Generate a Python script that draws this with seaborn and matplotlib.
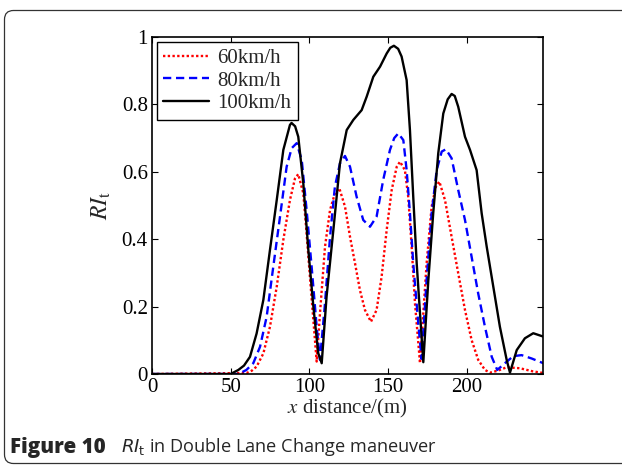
import matplotlib
matplotlib.use("Agg")
import matplotlib.pyplot as plt
import matplotlib.transforms as mtransforms
from matplotlib.patches import FancyBboxPatch
import seaborn as sns
import pandas as pd

# ---- data ----
series_labels = ["60km/h", "80km/h", "100km/h"]

black_x = [0, 50, 54.9, 58.5, 62.3, 66.5, 70.8, 75, 79.3, 83.5,
           87.7, 88.7, 91, 93, 96.2, 99.4, 102.6, 105.7, 107.9, 111,
           115.3, 119.5, 123.8, 128, 133.3, 136.5, 140.7, 145, 149.2, 151.5,
           153.8, 156.5, 158.7, 161.9, 164, 166.1, 168.3, 170.4, 172.5, 175.7,
           178.8, 182, 185.2, 188, 190.5, 192.5, 194.7, 199, 202.2, 206.4,
           209.6, 212.8, 217, 221.2, 225.5, 227.6, 231.9, 237.1, 242.4, 248.8]
black_y = [0, 0, 0.012, 0.025, 0.051, 0.12, 0.22, 0.368, 0.516, 0.665,
           0.739, 0.745, 0.735, 0.704, 0.566, 0.368, 0.2, 0.062, 0.032, 0.23,
           0.427, 0.625, 0.724, 0.754, 0.783, 0.823, 0.882, 0.912, 0.951, 0.968,
           0.974, 0.965, 0.942, 0.872, 0.724, 0.526, 0.328, 0.18, 0.035, 0.279,
           0.477, 0.655, 0.773, 0.815, 0.831, 0.825, 0.793, 0.704, 0.665, 0.605,
           0.477, 0.378, 0.259, 0.14, 0.042, 0.004, 0.071, 0.106, 0.121, 0.111]

blue_x = [0, 55, 60, 64.4, 68.7, 72.9, 77.1, 81.4, 85.6, 88.8,
          92, 95.2, 98.3, 101.5, 104.7, 106.8, 110, 113.2, 116.3, 119.5,
          122.7, 125.9, 130.1, 134.3, 138.6, 142.8, 147, 151.3, 154, 156.6,
          159.8, 161.9, 164, 166.1, 169.3, 171.4, 174.6, 177.8, 181, 184.2,
          186.9, 190.5, 194.7, 199, 203.2, 207.4, 211.7, 216, 219.5, 224.4,
          229.7, 235, 241.4, 248.8]
blue_y = [0, 0, 0.012, 0.032, 0.081, 0.17, 0.318, 0.467, 0.615, 0.67,
          0.685, 0.635, 0.487, 0.318, 0.14, 0.042, 0.21, 0.407, 0.556, 0.625,
          0.647, 0.615, 0.526, 0.457, 0.437, 0.467, 0.576, 0.665, 0.7, 0.714,
          0.694, 0.605, 0.477, 0.328, 0.15, 0.045, 0.279, 0.477, 0.605, 0.66,
          0.667, 0.64, 0.546, 0.457, 0.348, 0.239, 0.14, 0.051, 0.012, 0.032,
          0.053, 0.056, 0.046, 0.032]

red_x = [0, 60.2, 63.5, 66.5, 70.8, 75, 79.3, 83.5, 87.7, 90.9,
         93, 96.2, 98.3, 100.4, 102.6, 104.7, 106.8, 110, 113.2, 116.3,
         119.1, 122.7, 125.9, 129.1, 132.2, 135.4, 139.2, 142.8, 146, 149.2,
         152.4, 155.6, 157.7, 160.8, 162.9, 165.1, 167.2, 170.4, 172.5, 174.6,
         177.8, 180.5, 182.7, 186.3, 190.5, 194.7, 199, 203.2, 207.4, 211.7,
         214.9, 220, 225.5, 234, 242, 248.8]
red_y = [0, 0.003, 0.01, 0.022, 0.061, 0.14, 0.259, 0.398, 0.516, 0.58,
         0.593, 0.536, 0.417, 0.289, 0.16, 0.037, 0.18, 0.378, 0.487, 0.536,
         0.551, 0.497, 0.407, 0.328, 0.249, 0.19, 0.155, 0.19, 0.289, 0.427,
         0.546, 0.615, 0.63, 0.605, 0.526, 0.378, 0.21, 0.032, 0.18, 0.328,
         0.497, 0.556, 0.571, 0.516, 0.407, 0.299, 0.19, 0.101, 0.042, 0.012,
         0.004, 0.01, 0.02, 0.017, 0.008, 0.003]

x_ticks = [0, 50, 100, 150, 200]
y_ticks = [0, 0.2, 0.4, 0.6, 0.8, 1]
y_tick_labels = ["0", "0.2", "0.4", "0.6", "0.8", "1"]

# ---- style ----
sns.set_style("ticks")
plt.rcParams["font.family"] = ["Liberation Serif", "DejaVu Serif"]
plt.rcParams["mathtext.fontset"] = "stix"

fig = plt.figure(figsize=(6.22, 4.65), dpi=100)
ax = fig.add_axes([152 / 622, 1 - 374 / 465, (543 - 152) / 622, (374 - 37) / 465])

df_red = pd.DataFrame({"x": red_x, "y": red_y})
df_blue = pd.DataFrame({"x": blue_x, "y": blue_y})
df_black = pd.DataFrame({"x": black_x, "y": black_y})

sns.lineplot(data=df_red, x="x", y="y", ax=ax, color="#ff0000", linestyle=(0, (1, 1)),
             linewidth=1.7, sort=False, estimator=None, label=series_labels[0])
sns.lineplot(data=df_blue, x="x", y="y", ax=ax, color="#0000ff", linestyle=(0, (3.5, 2)),
             linewidth=1.7, sort=False, estimator=None, label=series_labels[1])
sns.lineplot(data=df_black, x="x", y="y", ax=ax, color="black", linestyle="-",
             linewidth=1.7, sort=False, estimator=None, label=series_labels[2])

ax.set_xlim(0, 248.6)
ax.set_ylim(0, 1)
ax.set_xticks(x_ticks)
ax.set_xticklabels([str(t) for t in x_ticks])
ax.set_yticks(y_ticks)
ax.set_yticklabels(y_tick_labels)
ax.tick_params(direction="in", top=True, right=True, length=4, width=0.8,
               labelsize=15, pad=3, colors="black")
for s in ax.spines.values():
    s.set_linewidth(1.2)
    s.set_color("black")

ax.set_xlabel(r"$x$ distance/(m)", fontsize=15, labelpad=0)
ax.set_ylabel(r"$RI_{\mathrm{t}}$", fontsize=17, labelpad=6)

leg = ax.legend(loc="upper left", fontsize=15, frameon=True, fancybox=False,
                borderaxespad=0.25, handlelength=2.2, handletextpad=0.4,
                borderpad=0.3, labelspacing=0.15)
leg.get_frame().set_edgecolor("black")
leg.get_frame().set_linewidth(1.0)
leg.get_frame().set_alpha(1)

# caption
cap_y = 1 - 447 / 465
fig.text(10 / 622, cap_y, "Figure 10", fontsize=14.8, fontweight="heavy",
         family=["Open Sans", "DejaVu Sans"], va="center", ha="left")
fig.text(121 / 622, cap_y, r"$\mathit{RI}_{\mathrm{t}}$ in Double Lane Change maneuver",
         fontsize=13.1, family=["Open Sans", "DejaVu Sans"], va="center", ha="left",
         math_fontfamily="dejavusans")

# rounded frame around the figure
frame = FancyBboxPatch((4.5, 1.5), 700, 453, boxstyle="round,pad=0,rounding_size=9",
                       transform=mtransforms.IdentityTransform(), facecolor="none",
                       edgecolor="#333333", linewidth=0.9)
fig.patches.append(frame)

fig.savefig("out.png", dpi=100)
